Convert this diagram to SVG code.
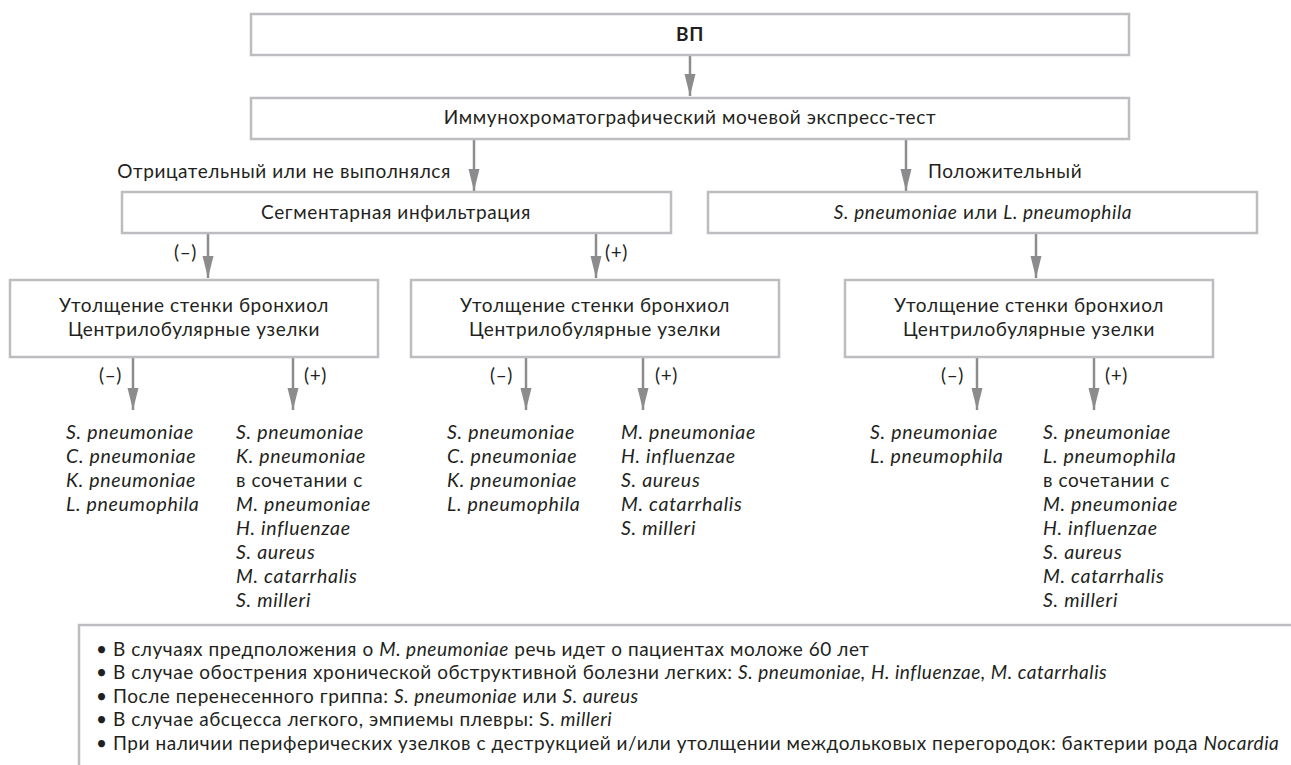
<svg xmlns="http://www.w3.org/2000/svg" width="1291" height="765" viewBox="0 0 1291 765">
<style>
text{font-family:"Lato","Liberation Sans",sans-serif;fill:#231f20;font-size:19px;letter-spacing:0.6px}
.c{text-anchor:middle}
.e{text-anchor:end}
.i{font-style:italic}
.l{font-size:19.5px;letter-spacing:0.7px}
.b{font-weight:bold}
.box{fill:#fff;stroke:#bcbdc0;stroke-width:2.5}
.arr{stroke:#8c8c8e;stroke-width:2.5;fill:none;marker-end:url(#ah)}
.note{font-size:19px;letter-spacing:0.55px}
</style>
<defs>
<marker id="ah" markerUnits="userSpaceOnUse" markerWidth="24" markerHeight="12" refX="22" refY="5.5" orient="auto">
<path d="M0,0 L22,5.5 L0,11 Z" fill="#8c8c8e"/>
</marker>
</defs>
<rect width="1291" height="765" fill="#fff"/>
<g id="connectors">
<line class="arr" x1="690" y1="55" x2="690" y2="96"/>
<line class="arr" x1="474" y1="139" x2="474" y2="191"/>
<line class="arr" x1="906" y1="139" x2="906" y2="191"/>
<line class="arr" x1="208" y1="233" x2="208" y2="278"/>
<line class="arr" x1="596" y1="233" x2="596" y2="278"/>
<line class="arr" x1="1036" y1="233" x2="1036" y2="278"/>
<line class="arr" x1="133" y1="357" x2="133" y2="410"/>
<line class="arr" x1="293" y1="357" x2="293" y2="410"/>
<line class="arr" x1="526" y1="357" x2="526" y2="410"/>
<line class="arr" x1="643" y1="357" x2="643" y2="410"/>
<line class="arr" x1="977" y1="357" x2="977" y2="410"/>
<line class="arr" x1="1094" y1="357" x2="1094" y2="410"/>
<text x="451" y="178" class="e">Отрицательный или не выполнялся</text>
<text x="928" y="178">Положительный</text>
<text x="197" y="259" class="e">(–)</text>
<text x="605" y="259">(+)</text>
<text x="122" y="382" class="e">(–)</text>
<text x="304" y="382">(+)</text>
<text x="513" y="382" class="e">(–)</text>
<text x="655" y="382">(+)</text>
<text x="964" y="382" class="e">(–)</text>
<text x="1105" y="382">(+)</text>
</g>
<g id="n-vp">
<rect class="box" x="251" y="14" width="878" height="41"/>
<text x="690" y="41" class="c b">ВП</text>
</g>
<g id="n-test">
<rect class="box" x="251" y="98" width="878" height="41"/>
<text x="690" y="124" class="c">Иммунохроматографический мочевой экспресс-тест</text>
</g>
<g id="n-seg">
<rect class="box" x="122" y="192" width="549" height="41"/>
<text x="396" y="219" class="c">Сегментарная инфильтрация</text>
</g>
<g id="n-pos">
<rect class="box" x="708" y="192" width="549" height="41"/>
<text x="983" y="219" class="c"><tspan class="i">S. pneumoniae</tspan> или <tspan class="i">L. pneumophila</tspan></text>
</g>
<g id="n-bronch-a">
<rect class="box" x="10" y="280" width="368" height="77"/>
<text x="194" y="312" class="c">Утолщение стенки бронхиол</text>
<text x="194" y="336" class="c">Центрилобулярные узелки</text>
</g>
<g id="n-bronch-b">
<rect class="box" x="411" y="280" width="368" height="77"/>
<text x="595" y="312" class="c">Утолщение стенки бронхиол</text>
<text x="595" y="336" class="c">Центрилобулярные узелки</text>
</g>
<g id="n-bronch-c">
<rect class="box" x="845" y="280" width="368" height="77"/>
<text x="1029" y="312" class="c">Утолщение стенки бронхиол</text>
<text x="1029" y="336" class="c">Центрилобулярные узелки</text>
</g>
<g id="n-list-a-neg">
<text class="i l" x="66" y="439">S. pneumoniae</text>
<text class="i l" x="66" y="463">C. pneumoniae</text>
<text class="i l" x="66" y="487">K. pneumoniae</text>
<text class="i l" x="66" y="511">L. pneumophila</text>
</g>
<g id="n-list-a-pos">
<text class="i l" x="236" y="439">S. pneumoniae</text>
<text class="i l" x="236" y="463">K. pneumoniae</text>
<text x="236" y="487">в сочетании с</text>
<text class="i l" x="236" y="511">M. pneumoniae</text>
<text class="i l" x="236" y="535">H. influenzae</text>
<text class="i l" x="236" y="559">S. aureus</text>
<text class="i l" x="236" y="583">M. catarrhalis</text>
<text class="i l" x="236" y="607">S. milleri</text>
</g>
<g id="n-list-b-neg">
<text class="i l" x="447" y="439">S. pneumoniae</text>
<text class="i l" x="447" y="463">C. pneumoniae</text>
<text class="i l" x="447" y="487">K. pneumoniae</text>
<text class="i l" x="447" y="511">L. pneumophila</text>
</g>
<g id="n-list-b-pos">
<text class="i l" x="621" y="439">M. pneumoniae</text>
<text class="i l" x="621" y="463">H. influenzae</text>
<text class="i l" x="621" y="487">S. aureus</text>
<text class="i l" x="621" y="511">M. catarrhalis</text>
<text class="i l" x="621" y="535">S. milleri</text>
</g>
<g id="n-list-c-neg">
<text class="i l" x="870" y="439">S. pneumoniae</text>
<text class="i l" x="870" y="463">L. pneumophila</text>
</g>
<g id="n-list-c-pos">
<text class="i l" x="1043" y="439">S. pneumoniae</text>
<text class="i l" x="1043" y="463">L. pneumophila</text>
<text x="1043" y="487">в сочетании с</text>
<text class="i l" x="1043" y="511">M. pneumoniae</text>
<text class="i l" x="1043" y="535">H. influenzae</text>
<text class="i l" x="1043" y="559">S. aureus</text>
<text class="i l" x="1043" y="583">M. catarrhalis</text>
<text class="i l" x="1043" y="607">S. milleri</text>
</g>
<g id="n-notes">
<path d="M1291,625 H79 V765" fill="none" stroke="#bcbdc0" stroke-width="2.5"/>
<text class="note" x="96" y="656">• В случаях предположения о <tspan class="i">M. pneumoniae</tspan> речь идет о пациентах моложе 60 лет</text>
<text class="note" x="96" y="679">• В случае обострения хронической обструктивной болезни легких: <tspan class="i">S. pneumoniae, H. influenzae, M. catarrhalis</tspan></text>
<text class="note" x="96" y="703">• После перенесенного гриппа: <tspan class="i">S. pneumoniae</tspan> или <tspan class="i">S. aureus</tspan></text>
<text class="note" x="96" y="726">• В случае абсцесса легкого, эмпиемы плевры: S. <tspan class="i">milleri</tspan></text>
<text class="note" x="96" y="750">• При наличии периферических узелков с деструкцией и/или утолщении междольковых перегородок: бактерии рода <tspan class="i">Nocardia</tspan></text>
</g>
</svg>
